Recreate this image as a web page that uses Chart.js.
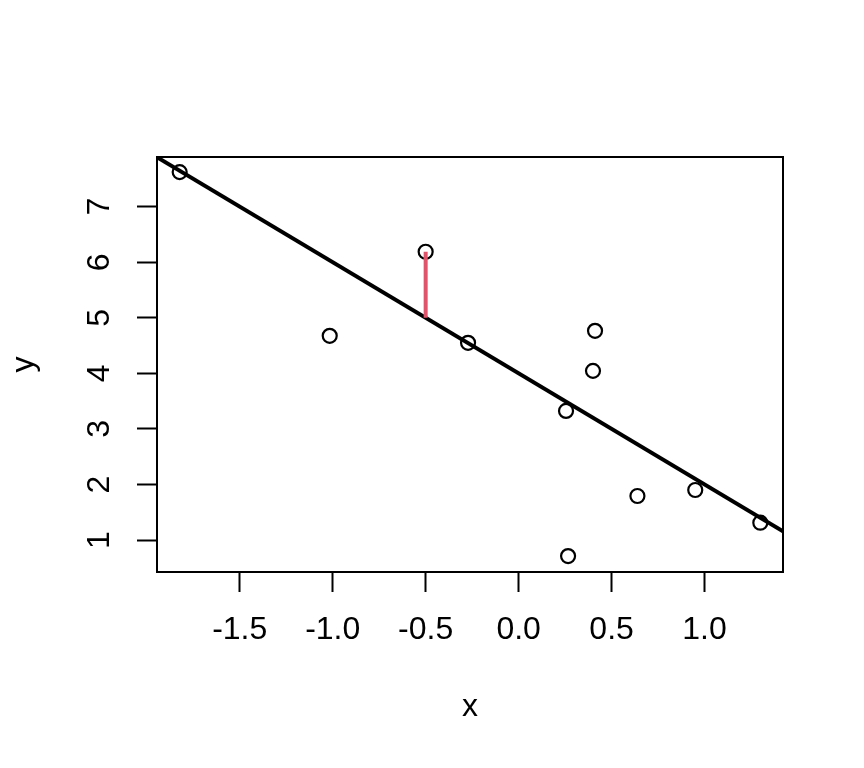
<!DOCTYPE html>
<html>
<head>
<meta charset="utf-8">
<script src="https://cdn.jsdelivr.net/npm/chart.js@4/dist/chart.umd.min.js"></script>
<style>
html,body{margin:0;padding:0;background:#fff;}
#c{display:block;}
</style>
</head>
<body>
<canvas id="c" width="864" height="768"></canvas>
<script>
// ---- data ----
const pointX = [-1.823, -0.500, -1.016, -0.272, 0.411, 0.400, 0.255, 0.639, 0.950, 1.300, 0.266];
const pointY = [7.622, 6.189, 4.676, 4.550, 4.766, 4.045, 3.324, 1.793, 1.901, 1.312, 0.712];
const fitLineX = [-1.945, 1.422];
const fitLineY = [7.890, 1.156];
const residualX = [-0.500, -0.500];
const residualY = [6.189, 5.000];
const xTicks = [-1.5, -1.0, -0.5, 0.0, 0.5, 1.0];
const xTickLabels = ["-1.5", "-1.0", "-0.5", "0.0", "0.5", "1.0"];
const yTicks = [1, 2, 3, 4, 5, 6, 7];
const yTickLabels = ["1", "2", "3", "4", "5", "6", "7"];
const xRange = [-1.945, 1.422];
const yRange = [0.425, 7.894];

const FONT = "'Liberation Sans', Arial, Helvetica, sans-serif";
const toXY = (xs, ys) => xs.map((x, i) => ({x: x, y: ys[i]}));

const boxPlugin = {
  id: 'box',
  beforeDatasetsDraw(chart) {
    const a = chart.chartArea, ctx = chart.ctx;
    ctx.save();
    ctx.strokeStyle = '#000';
    ctx.lineWidth = 2;
    ctx.strokeRect(a.left, a.top, a.right - a.left, a.bottom - a.top);
    ctx.restore();
  }
};

new Chart(document.getElementById('c'), {
  type: 'scatter',
  data: {
    datasets: [
      {
        type: 'line',
        data: toXY(residualX, residualY),
        borderColor: '#DF536B',
        borderWidth: 4,
        pointRadius: 0,
        borderCapStyle: 'butt',
        fill: false
      },
      {
        type: 'line',
        data: toXY(fitLineX, fitLineY),
        borderColor: '#000',
        borderWidth: 4,
        pointRadius: 0,
        fill: false
      },
      {
        data: toXY(pointX, pointY),
        pointStyle: 'circle',
        pointRadius: 7,
        pointBorderWidth: 2.2,
        borderWidth: 2.2,
        borderColor: '#000',
        pointBorderColor: '#000',
        backgroundColor: 'rgba(0,0,0,0)',
        pointBackgroundColor: 'rgba(0,0,0,0)',
        pointHoverRadius: 7
      }
    ]
  },
  options: {
    responsive: false,
    animation: false,
    devicePixelRatio: 1,
    layout: {padding: {top: 157, right: 81, left: 0, bottom: 0}},
    plugins: {legend: {display: false}, tooltip: {enabled: false}},
    scales: {
      x: {
        type: 'linear',
        position: 'bottom',
        min: xRange[0],
        max: xRange[1],
        afterBuildTicks: s => { s.ticks = xTicks.map(v => ({value: v})); },
        afterFit: s => { s.height = 196; },
        ticks: {
          callback: (v, i) => xTickLabels[i],
          font: {family: FONT, size: 32},
          color: '#000',
          padding: 19,
          maxRotation: 0,
          minRotation: 0,
          autoSkip: false
        },
        grid: {drawOnChartArea: false, drawTicks: true, tickLength: 20, tickWidth: 2, tickColor: '#000'},
        border: {display: false},
        title: {display: true, text: 'x', font: {family: FONT, size: 32}, color: '#000', padding: {top: 0, bottom: 42}}
      },
      y: {
        type: 'linear',
        position: 'left',
        min: yRange[0],
        max: yRange[1],
        afterBuildTicks: s => { s.ticks = yTicks.map(v => ({value: v})); },
        afterFit: s => { s.width = 157; },
        ticks: {
          callback: (v, i) => yTickLabels[i],
          font: {family: FONT, size: 32},
          color: '#000',
          padding: 28,
          minRotation: 90,
          maxRotation: 90,
          crossAlign: 'center',
          autoSkip: false
        },
        grid: {drawOnChartArea: false, drawTicks: true, tickLength: 20, tickWidth: 2, tickColor: '#000'},
        border: {display: false},
        title: {display: true, text: 'y', font: {family: FONT, size: 32}, color: '#000', padding: {top: 5, bottom: 0}}
      }
    }
  },
  plugins: [boxPlugin]
});
</script>
</body>
</html>
